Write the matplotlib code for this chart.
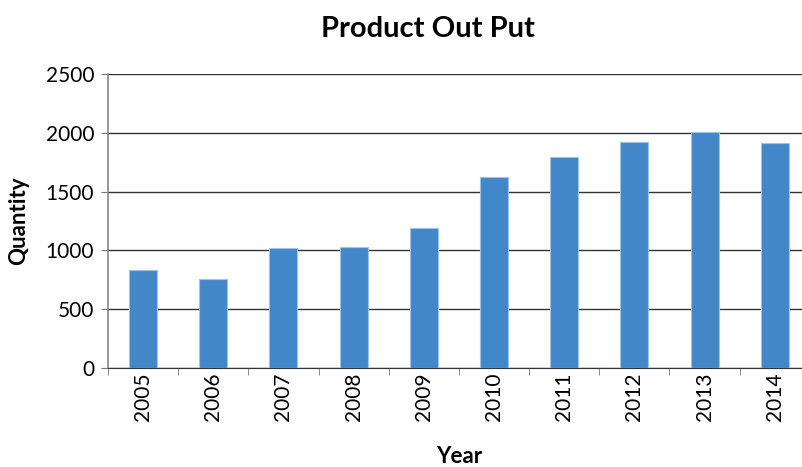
import numpy as np
import matplotlib.pyplot as plt

years = ["2005", "2006", "2007", "2008", "2009", "2010", "2011", "2012", "2013", "2014"]
quantity = [835, 755, 1023, 1031, 1193, 1625, 1798, 1926, 2005, 1912]

plt.rcParams['font.family'] = ['Lato', 'DejaVu Sans']

fig = plt.figure(figsize=(8.03, 4.67), dpi=100)
# the source picture is cropped on the right, so the axes run past the figure edge
ax = fig.add_axes([0.1345, 0.212, 0.874, 0.6295])

x = np.arange(len(years))
ax.bar(x, quantity, width=0.4, color='#4287c8', edgecolor='#9fc3e6', linewidth=0.8, zorder=3)

ax.set_xlim(-0.5, len(years) - 0.5)
ax.set_ylim(0, 2500)
ax.set_yticks(np.arange(0, 2501, 500))
ax.yaxis.grid(True, color='#333333', linewidth=1.0, zorder=0)

# labels centered on bars, tick marks at category boundaries
ax.set_xticks(x)
ax.set_xticklabels(years, rotation=90, fontsize=15)
ax.tick_params(axis='x', length=0, pad=3)
ax.set_xticks(np.arange(-0.5, len(years)), minor=True)
ax.tick_params(axis='x', which='minor', length=5, color='#777777')
ax.tick_params(axis='y', labelsize=15, length=5, pad=5, color='#777777')

for side in ['top', 'right']:
    ax.spines[side].set_visible(False)
ax.spines['left'].set_color('#888888')
ax.spines['left'].set_linewidth(1.2)
ax.spines['bottom'].set_color('#333333')

ax.set_title("Product Out Put", fontsize=21, fontweight='bold', pad=27, x=0.456)
ax.set_xlabel("Year", fontsize=16, fontweight='bold', labelpad=18)
ax.set_ylabel("Quantity", fontsize=16, fontweight='bold', labelpad=12)

fig.savefig("out.png", dpi=100)
